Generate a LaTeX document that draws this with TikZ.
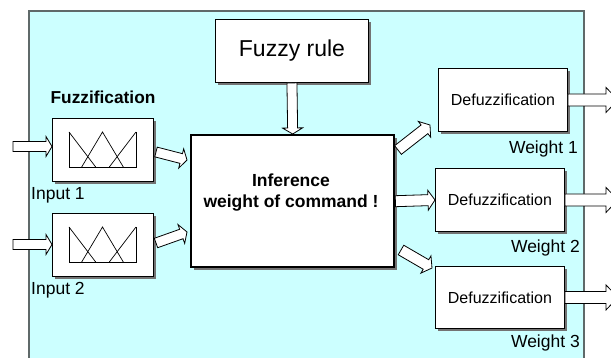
\documentclass[tikz,border=0pt]{standalone}
\usepackage{fontspec}
\setmainfont{Liberation Sans}
\usetikzlibrary{calc,shadows}

\definecolor{panelfill}{RGB}{204,255,255}
\definecolor{panelline}{RGB}{95,105,105}

% Outlined block arrow from #1 to #2: shaft half width #3, head half width #4, head length #5
\newcommand\blockarrow[5]{%
  \draw[blockarr] let \p1=($(#2)-(#1)$), \n1={atan2(\y1,\x1)}, \n2={veclen(\x1,\y1)} in
    ($(#1)+(\n1+90:#3)$) -- ++(\n1:\n2-#5) -- ++(\n1+90:#4-#3) -- (#2)
    -- ($(#2)+(\n1:-#5)+(\n1-90:#4)$) -- ++(\n1+90:#4-#3)
    -- ($(#1)+(\n1-90:#3)$) -- cycle;}

\tikzset{
  box/.style={draw=black, line width=0.9pt, fill=white, inner sep=0pt,
    drop shadow={shadow xshift=3pt, shadow yshift=-3pt, fill=black!55, opacity=1}},
  blockarr/.style={draw=black, line width=0.8pt, fill=white, line join=miter},
  mf/.style={draw=black, line width=0.7pt},
  lbl/.style={inner sep=0pt, font=\fontsize{17.5}{21}\selectfont},
}

\begin{document}
\begin{tikzpicture}[x=1pt, y=-1pt]
\useasboundingbox (0,0) rectangle (611,358);
\clip (0,0) rectangle (611,358);

% background panel, open at the bottom
\fill[panelfill] (29,11) rectangle (584,362);
\draw[panelline, line width=1.3pt] (29,362) -- (29,11) -- (584,11) -- (584,362);

% rule base and inference engine
\node[box, anchor=north west, minimum width=153pt, minimum height=63pt,
      font=\fontsize{23}{27}\selectfont] (rule) at (215,19) {Fuzzy rule};
\node[box, line width=2.4pt, anchor=north west, minimum width=203pt, minimum height=132pt] (inf) at (190,134) {};
\node[align=center, font=\bfseries\fontsize{17.5}{21}\selectfont] (inftext) at (291,193)
  {Inference\\weight of command !};

% fuzzification blocks
\node[box, anchor=north west, minimum width=101pt, minimum height=63pt] (f1) at (52,118) {};
\node[box, anchor=north west, minimum width=101pt, minimum height=63pt] (f2) at (52,213) {};
\foreach \b in {f1,f2}{
  \begin{scope}[shift={(\b.north west)}]
    \draw[mf] (17,14) -- (17,49) -- (84,49) -- (84,14);
    \draw[mf] (17,14) -- (43.7,49);
    \draw[mf] (29.7,49) -- (50.5,14) -- (71.3,49);
    \draw[mf] (57.3,49) -- (84,14);
  \end{scope}
}
\node[font=\bfseries\fontsize{17.3}{20}\selectfont, inner sep=0pt] (fuzzlbl) at (103,97) {Fuzzification};
\node[lbl, anchor=west] (in1lbl) at (31,195) {Input 1};
\node[lbl, anchor=west] (in2lbl) at (31,290) {Input 2};

% defuzzification blocks
\node[box, anchor=north west, minimum width=129pt, minimum height=63pt,
      font=\fontsize{16}{19}\selectfont] (d1) at (438,68) {Defuzzification};
\node[box, anchor=north west, minimum width=129pt, minimum height=63pt,
      font=\fontsize{16}{19}\selectfont] (d2) at (435,168) {Defuzzification};
\node[box, anchor=north west, minimum width=129pt, minimum height=62pt,
      font=\fontsize{16}{19}\selectfont] (d3) at (435,266) {Defuzzification};
\node[lbl, anchor=east] (w1lbl) at (578,149) {Weight 1};
\node[lbl, anchor=east] (w2lbl) at (580,248) {Weight 2};
\node[lbl, anchor=east] (w3lbl) at (580,343) {Weight 3};

% connector end points
\coordinate (in1) at (13,146.5);
\coordinate (in2) at (13,244.5);
\coordinate (a1s) at (156,152);
\coordinate (a1e) at (187,160);
\coordinate (a2s) at (156,243);
\coordinate (a2e) at (187,232);
\coordinate (b1s) at (398,150);
\coordinate (b1e) at (430,125);
\coordinate (b3s) at (401,250);
\coordinate (b3e) at (432,268);
\coordinate (out) at (618,0);

% arrows
\blockarrow{in1}{f1.west |- in1}{5pt}{10pt}{6pt}
\blockarrow{in2}{f2.west |- in2}{5pt}{10pt}{6pt}
\blockarrow{a1s}{a1e}{5pt}{10pt}{6pt}
\blockarrow{a2s}{a2e}{5pt}{10pt}{6pt}
\blockarrow{rule.south}{inf.north}{5pt}{10pt}{6pt}
\blockarrow{b1s}{b1e}{5.5pt}{10pt}{7pt}
\blockarrow{inf.east}{d2.west}{5.5pt}{10pt}{7pt}
\blockarrow{b3s}{b3e}{5.5pt}{10pt}{7pt}
\blockarrow{d1.east}{d1.east -| out}{6pt}{12.5pt}{12pt}
\blockarrow{d2.east}{d2.east -| out}{6pt}{12.5pt}{12pt}
\blockarrow{d3.east}{d3.east -| out}{6pt}{12.5pt}{12pt}
\end{tikzpicture}
\end{document}
